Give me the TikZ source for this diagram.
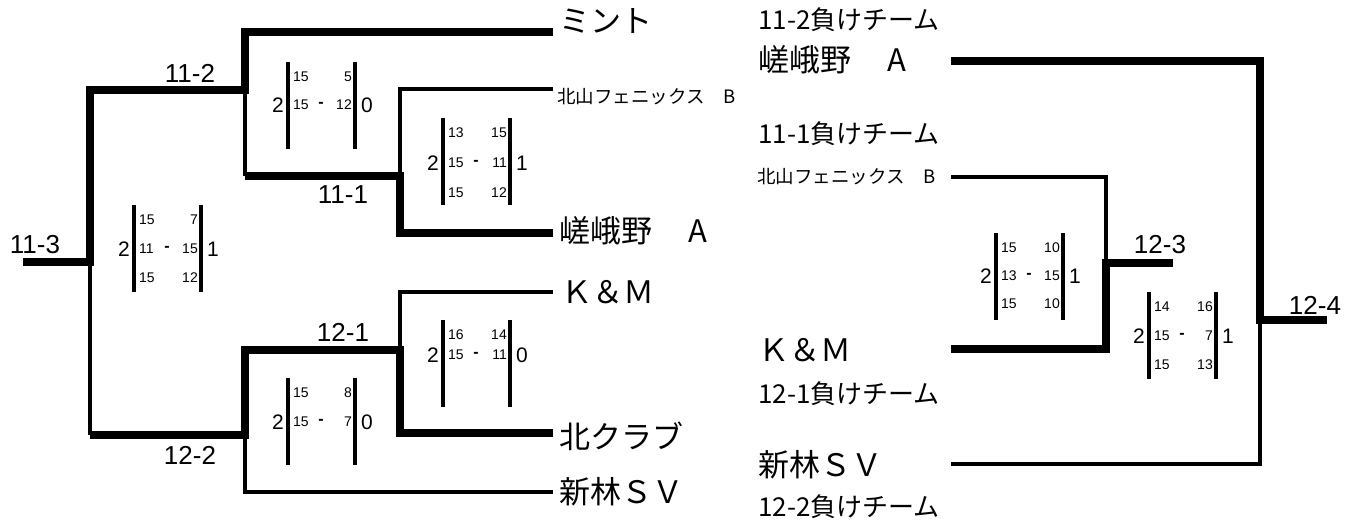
\documentclass[tikz,border=0pt]{standalone}
\usepackage{fontspec}
\setmainfont{Liberation Sans}
\newfontfamily\jp{Noto Sans CJK JP}
\usepackage{tikz}
\usetikzlibrary{positioning}

\begin{document}
\begin{tikzpicture}[x=1pt, y=-1pt,
  win/.style={line width=7.5pt},
  lose/.style={line width=3.2pt},
  team/.style={inner sep=0pt, font=\jp\fontsize{31}{36}\selectfont},
  smallteam/.style={inner sep=0pt, font=\jp\fontsize{18.5}{22}\selectfont},
  loss/.style={inner sep=0pt, anchor=west, font=\jp\fontsize{26}{30}\selectfont},
  lbl/.style={inner sep=0pt, font=\fontsize{26}{30}\selectfont},
  game/.style={inner sep=0pt, font=\fontsize{21}{24}\selectfont},
  pts/.style={inner sep=0pt, font=\fontsize{14}{16}\selectfont},
  minus/.style={inner sep=0pt, font=\bfseries\fontsize{16}{18}\selectfont}]
\useasboundingbox (0,0) rectangle (1358,520);

\coordinate (s113) at (23,262);
\coordinate (j113) at (90,262);
\coordinate (j112) at (245,90);
\coordinate (j111) at (400,176);
\coordinate (j122) at (245,435);
\coordinate (j121) at (400,350);
\coordinate (e1) at (553,32);
\coordinate (e2) at (553,89);
\coordinate (e3) at (553,233);
\coordinate (e4) at (553,292);
\coordinate (e5) at (553,433);
\coordinate (e6) at (553,492);

\node[team, right=6pt of e1, yshift=11pt] (mint) {ミント};
\node[smallteam, right=4pt of e2, yshift=-8pt] (kitaL) {北山フェニックス　B};
\node[team, right=6pt of e3, yshift=2pt] (sagaL) {嵯峨野　\hspace{5pt}A};
\node[team, right=8pt of e4] (kmL) {Ｋ＆Ｍ};
\node[team, right=6pt of e5, yshift=-3pt] (kclub) {北クラブ};
\node[team, right=6pt of e6] (shinL) {新林ＳＶ};

\draw[win] (s113) -- (j113) |- (j112) |- (e1);
\draw[lose] (j112) -- (j112 |- j111);
\draw[win] (j112 |- j111) -- (j111) |- (e3);
\draw[lose] (j111) |- (e2);
\draw[lose] (j113) -- (j113 |- j122);
\draw[win] (j113 |- j122) -- (j122) |- (j121) |- (e5);
\draw[lose] (j121) |- (e4);
\draw[lose] (j122) |- (e6);

\node[lbl] (m113) at (35,245) {11-3};
\node[lbl] (m112) at (190,73) {11-2};
\node[lbl] (m111) at (343,195) {11-1};
\node[lbl] (m121) at (343,332) {12-1};
\node[lbl] (m122) at (190,455) {12-2};

\node[loss] (l112) at (758,20) {11-2負けチーム};
\node[team, anchor=west] (sagaR) at (758,60) {嵯峨野　\hspace{5pt}A};
\node[loss] (l111) at (758,134) {11-1負けチーム};
\node[smallteam, anchor=west] (kitaR) at (757,177) {北山フェニックス　B};
\node[team, anchor=west] (kmR) at (758,350) {Ｋ＆Ｍ};
\node[loss] (l121) at (758,394) {12-1負けチーム};
\node[team, anchor=west] (shinR) at (758,465) {新林ＳＶ};
\node[loss] (l122) at (758,507) {12-2負けチーム};

\coordinate (f1) at (951,61);
\coordinate (f2) at (951,177);
\coordinate (f3) at (951,349);
\coordinate (f4) at (951,464);
\coordinate (j123) at (1106,263);
\coordinate (e123) at (1173,263);
\coordinate (j124) at (1260,320);
\coordinate (e124) at (1327,320);

\draw[lose] (f2) -| (j123);
\draw[win] (f3) -| (j123) -- (e123);
\draw[win] (f1) -| (j124) -- (e124);
\draw[lose] (j124) |- (f4);

\node[lbl] (m123) at (1160,245) {12-3};
\node[lbl] (m124) at (1315,305) {12-4};

\foreach \n/\xl/\yt/\dy/\gl/\gr/\rows in {
  113/134/205/29/2/1/{15/7,11/15,15/12},
  112/288/62/28/2/0/{15/5,15/12},
  111/443/118/30/2/1/{13/15,15/11,15/12},
  122/288/378/29/2/0/{15/8,15/7},
  121/443/320/20/2/0/{16/14,15/11},
  123/996/233/28/2/1/{15/10,13/15,15/10},
  124/1149/292/29/2/1/{14/16,15/7,15/13}}
{
  \draw[lose] (\xl,\yt) -- (\xl,\yt+87) (\xl+67,\yt) -- (\xl+67,\yt+87);
  \node[game] (g\n-l) at (\xl-10,\yt+15+\dy) {\gl};
  \node[game] (g\n-r) at (\xl+79,\yt+15+\dy) {\gr};
  \node[minus] (g\n-d) at (\xl+33,\yt+15+\dy) {-};
  \foreach \a/\b [count=\r] in \rows {
    \node[pts, anchor=west] (g\n-a\r) at (\xl+5,\yt+15+\dy*\r-\dy) {\a};
    \node[pts, anchor=east] (g\n-b\r) at (\xl+64,\yt+15+\dy*\r-\dy) {\b};
  }
}
\end{tikzpicture}
\end{document}
